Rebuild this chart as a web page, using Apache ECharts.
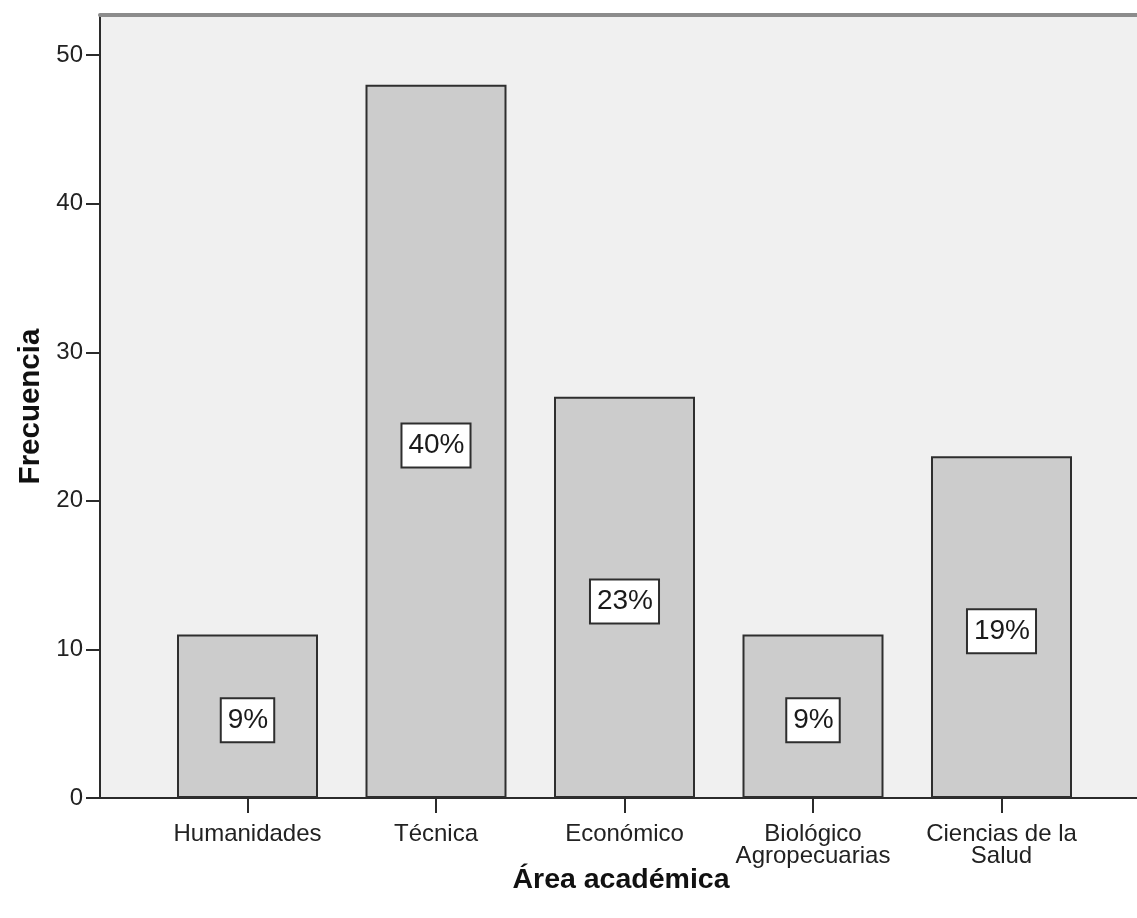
<!DOCTYPE html>
<html>
<head>
<meta charset="utf-8">
<script src="https://cdn.jsdelivr.net/npm/echarts@6/dist/echarts.min.js"></script>
<style>html,body{margin:0;padding:0;background:#fff}#c{width:1137px;height:918px}</style>
</head>
<body>
<div id="c"></div>
<script>
const categories = ['Humanidades', 'Técnica', 'Económico', 'Biológico\nAgropecuarias', 'Ciencias de la\nSalud'];
const frecuencia = [11, 48, 27, 11, 23];
const porcentajes = ['9%', '40%', '23%', '9%', '19%'];
const yTicks = [0, 10, 20, 30, 40, 50];

const FONT = '"Liberation Sans", Arial, sans-serif';
const YMAX = 52.7;

const chart = echarts.init(document.getElementById('c'), null, {renderer: 'canvas'});
chart.setOption({
  animation: false,
  backgroundColor: '#ffffff',
  title: {
    text: 'Área académica', left: 621, top: 866, textAlign: 'center', padding: 0,
    textStyle: {color: '#111', fontFamily: FONT, fontSize: 28.5, fontWeight: 'bold'}
  },
  grid: [
    {left: 100, right: 0, top: 15, bottom: 120, show: true, backgroundColor: '#f0f0f0', borderWidth: 0},
    {left: 153.25, right: 41.25, top: 15, bottom: 120}
  ],
  xAxis: [
    {gridIndex: 0, type: 'value', min: 0, max: 1, position: 'bottom',
     axisLine: {show: true, onZero: false, lineStyle: {color: '#2b2b2b', width: 2}},
     axisTick: {show: false}, axisLabel: {show: false}, splitLine: {show: false}},
    {gridIndex: 0, type: 'value', min: 0, max: 1, position: 'top',
     axisLine: {show: true, onZero: false, lineStyle: {color: '#8c8c8c', width: 4}},
     axisTick: {show: false}, axisLabel: {show: false}, splitLine: {show: false}},
    {gridIndex: 1, type: 'category', data: categories, position: 'bottom',
     axisLine: {show: false},
     axisTick: {show: true, alignWithLabel: true, length: 15, lineStyle: {color: '#2b2b2b', width: 2}},
     axisLabel: {color: '#222', fontFamily: FONT, fontSize: 24, lineHeight: 22, margin: 25, interval: 0}}
  ],
  yAxis: [
    {gridIndex: 0, type: 'value', min: 0, max: YMAX, interval: 10,
     axisLine: {show: true, lineStyle: {color: '#2b2b2b', width: 2}},
     axisTick: {show: true, length: 14, customValues: yTicks, lineStyle: {color: '#2b2b2b', width: 2}},
     axisLabel: {color: '#222', fontFamily: FONT, fontSize: 24, margin: 17, customValues: yTicks,
       formatter: v => (yTicks.indexOf(v) >= 0 ? String(v) : '')},
     splitLine: {show: false},
     name: 'Frecuencia', nameLocation: 'middle', nameGap: 52, nameRotate: 90,
     nameTextStyle: {color: '#111', fontFamily: FONT, fontSize: 29.5, fontWeight: 'bold'}},
    {gridIndex: 1, type: 'value', min: 0, max: YMAX, show: false}
  ],
  series: [{
    type: 'bar',
    xAxisIndex: 2, yAxisIndex: 1,
    data: frecuencia,
    barWidth: 141,
    itemStyle: {color: '#cccccc', borderColor: '#2e2e2e', borderWidth: 2},
    label: {
      show: true, position: 'inside', offset: [0, 4],
      formatter: p => porcentajes[p.dataIndex],
      color: '#1a1a1a', fontFamily: FONT, fontSize: 28, lineHeight: 30,
      backgroundColor: '#ffffff', borderColor: '#2e2e2e', borderWidth: 2,
      padding: [6, 5, 6, 6]
    }
  }]
});
</script>
</body>
</html>
